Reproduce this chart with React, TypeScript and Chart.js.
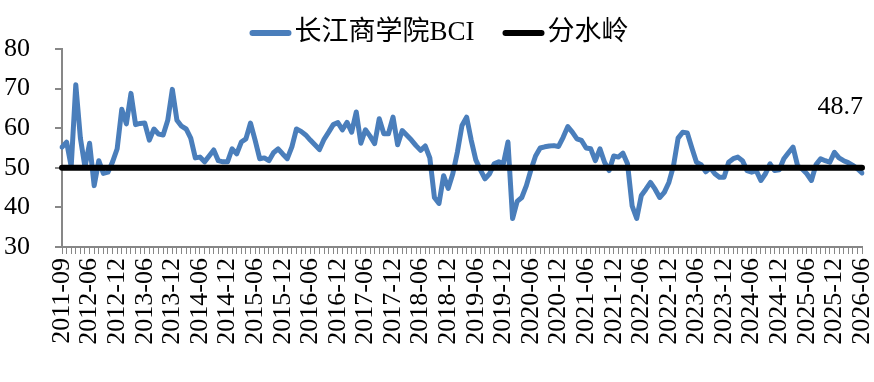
import React, { useEffect, useRef } from "react";
import { Chart, registerables } from "chart.js";

Chart.register(...registerables);

// ---- categories ----
const FIRST_LABELS = ["2011-09", "2011-12", "2012-02", "2012-03", "2012-04", "2012-05"];
function monthRange(sy: number, sm: number, ey: number, em: number): string[] {
  const out: string[] = [];
  let y = sy;
  let m = sm;
  while (y < ey || (y === ey && m <= em)) {
    out.push(`${y}-${m < 10 ? "0" + m : m}`);
    m++;
    if (m > 12) {
      m = 1;
      y++;
    }
  }
  return out;
}
const CATEGORIES: string[] = [...FIRST_LABELS, ...monthRange(2012, 6, 2026, 6)];
const LABEL_EVERY = 6;

// ---- series ----
const SERIES_NAMES = ["长江商学院BCI", "分水岭"];
const BCI = [
  55.2, 56.5, 50.3, 71.0, 57.5, 50.2, 56.2, 45.5, 51.8, 48.6,
  48.9, 51.5, 54.8, 64.8, 61.1, 68.8, 60.9, 61.2, 61.3, 57.0,
  59.8, 58.5, 58.3, 62.0, 69.8, 62.0, 60.5, 59.8, 57.5, 52.5,
  52.7, 51.5, 53.0, 54.5, 51.8, 51.5, 51.5, 54.8, 53.5, 56.5,
  57.3, 61.3, 57.0, 52.3, 52.5, 51.8, 53.8, 54.8, 53.5, 52.3,
  55.3, 59.8, 59.2, 58.3, 57.0, 55.8, 54.6, 57.2, 59.0, 60.9,
  61.4, 59.6, 61.5, 59.0, 64.1, 56.2, 59.6, 58.0, 56.1, 62.4,
  58.6, 58.6, 62.8, 55.8, 59.4, 58.2, 57.0, 55.6, 54.4, 55.5,
  52.5, 42.5, 41.0, 48.0, 44.8, 48.5, 54.0, 60.7, 62.8, 57.0,
  52.0, 49.5, 47.2, 48.5, 51.0, 51.5, 51.0, 56.5, 37.2, 41.5,
  42.5, 45.5, 49.5, 53.0, 55.0, 55.3, 55.5, 55.6, 55.4, 57.7,
  60.4, 59.0, 57.3, 56.9, 55.0, 54.8, 51.8, 54.8, 51.4, 49.3,
  53.0, 52.7, 53.7, 51.0, 40.4, 37.2, 43.0, 44.6, 46.3, 44.6,
  42.5, 43.8, 46.3, 50.5, 57.5, 59.0, 58.8, 55.0, 51.4, 50.8,
  49.0, 50.0, 48.5, 47.6, 47.6, 51.4, 52.3, 52.7, 51.8, 49.3,
  48.9, 49.3, 46.8, 48.5, 51.0, 49.3, 49.5, 52.3, 53.8, 55.2,
  50.5, 49.7, 48.5, 46.8, 50.8, 52.3, 51.8, 51.4, 53.9, 52.5,
  51.8, 51.3, 50.6, 49.8, 48.7,
];
const THRESHOLD = 50;
const THRESHOLD_SERIES = CATEGORIES.map(() => THRESHOLD);

// ---- axis ----
const Y_MIN = 30;
const Y_MAX = 80;
const Y_STEP = 10;

const FONT = "'Liberation Serif', 'Times New Roman', 'Noto Sans CJK SC', serif";
const BLUE = "#4A7EBB";
const AXIS_GRAY = "#878787";

const legendPlugin = {
  id: "customLegend",
  afterDraw(chart: any) {
    const ctx = chart.ctx;
    ctx.save();
    ctx.font = `27px ${FONT}`;
    const sw = 42;
    const gap = 3;
    const itemGap = 28;
    const items = chart.data.datasets.map((d: any) => ({
      label: d.label,
      color: d.borderColor,
      w: ctx.measureText(d.label).width,
    }));
    const total =
      items.reduce((s: number, it: any) => s + sw + gap + it.w, 0) + itemGap * (items.length - 1);
    let x = 439 - total / 2;
    const y = 33;
    items.forEach((it: any) => {
      ctx.strokeStyle = it.color;
      ctx.lineWidth = 6;
      ctx.lineCap = "round";
      ctx.beginPath();
      ctx.moveTo(x + 3, y);
      ctx.lineTo(x + sw - 3, y);
      ctx.stroke();
      x += sw + gap;
      ctx.fillStyle = "#000";
      ctx.textBaseline = "middle";
      ctx.textAlign = "left";
      ctx.fillText(it.label, x, y);
      x += it.w + itemGap;
    });
    ctx.restore();
  },
};

const lastLabelPlugin = {
  id: "lastLabel",
  afterDatasetsDraw(chart: any) {
    const meta = chart.getDatasetMeta(0);
    const n = meta.data.length;
    if (!n) return;
    const pt = meta.data[n - 1];
    const val = chart.data.datasets[0].data[n - 1];
    const ctx = chart.ctx;
    ctx.save();
    ctx.font = `26px ${FONT}`;
    ctx.fillStyle = "#000";
    ctx.textAlign = "right";
    ctx.textBaseline = "middle";
    ctx.fillText(Number(val).toFixed(1), pt.x + 1, pt.y - 66);
    ctx.restore();
  },
};

export default function App() {
  const ref = useRef<HTMLCanvasElement | null>(null);

  useEffect(() => {
    if (!ref.current) return;
    const chart = new Chart(ref.current, {
      type: "line",
      data: {
        labels: CATEGORIES,
        datasets: [
          {
            label: SERIES_NAMES[0],
            data: BCI,
            borderColor: BLUE,
            backgroundColor: BLUE,
            borderWidth: 5,
            pointRadius: 0,
            tension: 0,
            borderJoinStyle: "round",
            borderCapStyle: "round",
            order: 2,
          },
          {
            label: SERIES_NAMES[1],
            data: THRESHOLD_SERIES,
            borderColor: "#000000",
            backgroundColor: "#000000",
            borderWidth: 6,
            pointRadius: 0,
            tension: 0,
            borderCapStyle: "round",
            order: 1,
          },
        ],
      },
      options: {
        responsive: false,
        animation: false,
        devicePixelRatio: 1,
        layout: { padding: { top: 49, right: 12, bottom: 0, left: 0 } },
        plugins: {
          legend: { display: false },
          tooltip: { enabled: false },
        },
        scales: {
          x: {
            type: "category",
            offset: false,
            grid: {
              drawOnChartArea: false,
              drawTicks: true,
              tickLength: 7,
              color: AXIS_GRAY,
              lineWidth: 1,
            },
            border: { display: true, color: AXIS_GRAY, width: 2 },
            ticks: {
              autoSkip: false,
              maxRotation: 90,
              minRotation: 90,
              padding: 4,
              color: "#000",
              font: { family: FONT, size: 26, lineHeight: 1 },
              callback: function (this: any, v: any, i: number) {
                return i % LABEL_EVERY === 0 ? this.getLabelForValue(v) : "";
              },
            },
            afterFit: (s: any) => {
              s.height = 135;
              s.paddingLeft = 0;
              s.paddingRight = 0;
            },
          },
          y: {
            min: Y_MIN,
            max: Y_MAX,
            ticks: {
              stepSize: Y_STEP,
              padding: 25,
              color: "#000",
              font: { family: FONT, size: 26, lineHeight: 1 },
            },
            grid: {
              drawOnChartArea: false,
              drawTicks: true,
              tickLength: 7,
              color: AXIS_GRAY,
              lineWidth: 2,
            },
            border: { display: true, color: AXIS_GRAY, width: 2 },
            afterFit: (s: any) => {
              s.width = 62;
              s.paddingTop = 0;
              s.paddingBottom = 0;
            },
          },
        },
      },
      plugins: [legendPlugin, lastLabelPlugin],
    });
    return () => chart.destroy();
  }, []);

  return (
    <div style={{ position: "absolute", left: 0, top: 0, width: 874, height: 382, background: "#fff" }}>
      <canvas ref={ref} width={874} height={382} />
    </div>
  );
}
